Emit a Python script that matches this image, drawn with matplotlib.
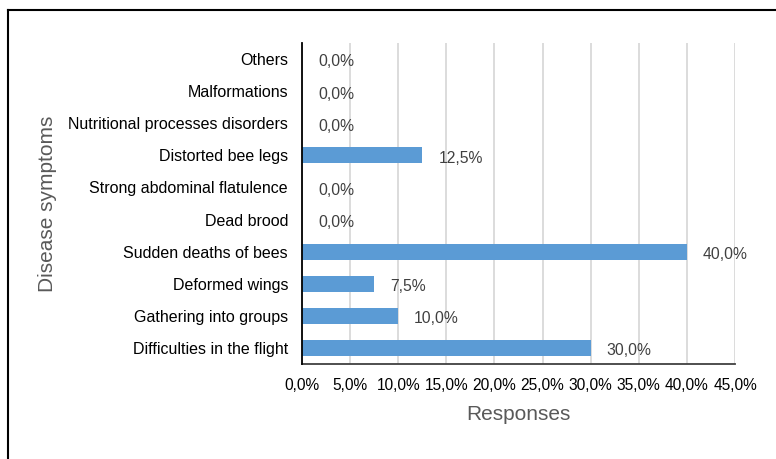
import matplotlib
matplotlib.use("Agg")
import matplotlib.pyplot as plt
from matplotlib.lines import Line2D
from matplotlib.ticker import FuncFormatter

plt.rcParams['font.family'] = ['Liberation Sans', 'DejaVu Sans']

# Symptoms listed bottom to top
symptoms = [
    "Difficulties in the flight",
    "Gathering into groups",
    "Deformed wings",
    "Sudden deaths of bees",
    "Dead brood",
    "Strong abdominal flatulence",
    "Distorted bee legs",
    "Nutritional processes disorders",
    "Malformations",
    "Others",
]
shares = [30.0, 10.0, 7.5, 40.0, 0.0, 0.0, 12.5, 0.0, 0.0, 0.0]
x_ticks = [0, 5, 10, 15, 20, 25, 30, 35, 40, 45]

W, H = 776, 459
fig = plt.figure(figsize=(W / 100, H / 100), dpi=100)
ax = fig.add_axes([302 / W, 1 - 364 / H, (735 - 302) / W, (364 - 43) / H])

def pct(v, pos=None):
    return f"{v:.1f}%".replace(".", ",")

y = range(len(symptoms))
ax.barh(y, shares, height=0.5, color="#5B9BD5", zorder=3)
for yi, v in zip(y, shares):
    ax.annotate(pct(v), xy=(v, yi), xytext=(11.5, -1), textcoords="offset points",
                ha="left", va="center_baseline", fontsize=11.3, color="#404040", zorder=4)

ax.set_xlim(0, 45)
ax.set_ylim(-0.5, len(symptoms) - 0.5)
ax.set_xticks(x_ticks)
ax.xaxis.set_major_formatter(FuncFormatter(pct))
ax.set_yticks(list(y))
ax.set_yticklabels(symptoms)
ax.tick_params(axis="both", colors="#000000", length=0)
ax.tick_params(axis="y", labelsize=11.5, pad=10)
ax.tick_params(axis="x", labelsize=11.2, pad=10)
ax.grid(axis="x", color="#D9D9D9", linewidth=1.3, zorder=0)
for s in ("top", "right"):
    ax.spines[s].set_visible(False)
ax.spines["left"].set_color("#000000")
ax.spines["left"].set_linewidth(1.3)
ax.spines["bottom"].set_color("#404040")
ax.spines["bottom"].set_linewidth(1.3)
ax.spines["left"].set_zorder(5)

ax.set_xlabel("Responses", fontsize=15, color="#595959", labelpad=9)
fig.text(48 / W, 1 - 204 / H, "Disease symptoms", rotation=90, fontsize=15,
         color="#595959", ha="center", va="center")

# Outer frame lines (left and top)
fig.add_artist(Line2D([8 / W, 8 / W], [0, 1 - 10 / H], transform=fig.transFigure,
                      color="black", linewidth=1.5))
fig.add_artist(Line2D([8 / W, 1], [1 - 10 / H, 1 - 10 / H], transform=fig.transFigure,
                      color="black", linewidth=1.5))

fig.savefig("out.png", dpi=100, facecolor="white")
